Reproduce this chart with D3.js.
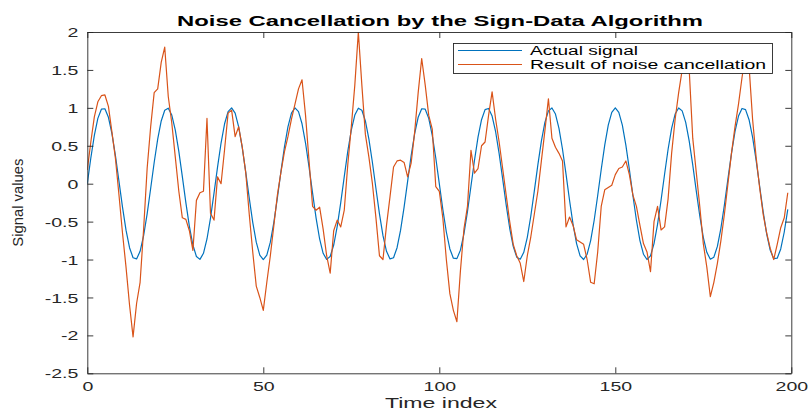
<!DOCTYPE html>
<html><head><meta charset="utf-8">
<script src="https://cdn.jsdelivr.net/npm/d3@7"></script>
<style>body{margin:0;background:#fff}svg{display:block}</style>
</head><body>
<svg id="c" width="808" height="412"></svg>
<script>
const titleText = "Noise Cancellation by the Sign-Data Algorithm";
const xLabel = "Time index";
const yLabel = "Signal values";
const seriesNames = ["Actual signal", "Result of noise cancellation"];
const xTicks = [0, 50, 100, 150, 200];
const yTicks = [-2.5, -2, -1.5, -1, -0.5, 0, 0.5, 1, 1.5, 2];
const yTickLabels = ["-2.5", "-2", "-1.5", "-1", "-0.5", "0", "0.5", "1", "1.5", "2"];

const actualSignal = [
 0, 0.339, 0.637, 0.861, 0.982, 0.988, 0.876, 0.661, 0.368, 0.031,
 -0.309, -0.613, -0.844, -0.976, -0.992, -0.891, -0.685, -0.397, -0.063, 0.279,
 0.588, 0.827, 0.969, 0.996, 0.905, 0.707, 0.426, 0.094, -0.249, -0.562,
 -0.809, -0.960, -0.998, -0.918, -0.729, -0.454, -0.125, 0.218, 0.536, 0.790,
 0.951, 1.000, 0.930, 0.750, 0.482, 0.156, -0.187, -0.509, -0.771, -0.941,
 -1.000, -0.941, -0.771, -0.509, -0.187, 0.156, 0.482, 0.750, 0.930, 1.000,
 0.951, 0.790, 0.536, 0.218, -0.125, -0.454, -0.729, -0.918, -0.998, -0.960,
 -0.809, -0.562, -0.249, 0.094, 0.426, 0.707, 0.905, 0.996, 0.969, 0.827,
 0.588, 0.279, -0.063, -0.397, -0.685, -0.891, -0.992, -0.976, -0.844, -0.613,
 -0.309, 0.031, 0.368, 0.661, 0.876, 0.988, 0.982, 0.861, 0.637, 0.339,
 0, -0.339, -0.637, -0.861, -0.982, -0.988, -0.876, -0.661, -0.368, -0.031,
 0.309, 0.613, 0.844, 0.976, 0.992, 0.891, 0.685, 0.397, 0.063, -0.279,
 -0.588, -0.827, -0.969, -0.996, -0.905, -0.707, -0.426, -0.094, 0.249, 0.562,
 0.809, 0.960, 0.998, 0.918, 0.729, 0.454, 0.125, -0.218, -0.536, -0.790,
 -0.951, -1.000, -0.930, -0.750, -0.482, -0.156, 0.187, 0.509, 0.771, 0.941,
 1.000, 0.941, 0.771, 0.509, 0.187, -0.156, -0.482, -0.750, -0.930, -1.000,
 -0.951, -0.790, -0.536, -0.218, 0.125, 0.454, 0.729, 0.918, 0.998, 0.960,
 0.809, 0.562, 0.249, -0.094, -0.426, -0.707, -0.905, -0.996, -0.969, -0.827,
 -0.588, -0.279, 0.063, 0.397, 0.685, 0.891, 0.992, 0.976, 0.844, 0.613,
 0.309, -0.031, -0.368, -0.661, -0.876, -0.988, -0.982, -0.861, -0.637, -0.339
];

const noiseCancelled = [
 0.18, 0.55, 0.88, 1.08, 1.16, 1.17, 1.02, 0.68, 0.33, -0.15,
 -0.65, -1.1, -1.6, -2.02, -1.58, -1.3, -0.6, 0.2, 0.75, 1.2,
 1.25, 1.6, 1.8, 1.15, 0.8, 0.35, -0.1, -0.45, -0.47, -0.62,
 -0.88, -0.22, -0.12, -0.1, 0.86, -0.39, -0.48, 0.09, 0.0, 0.45,
 0.93, 0.97, 0.62, 0.75, 0.49, 0.15, -0.4, -0.9, -1.35, -1.5,
 -1.67, -1.3, -0.95, -0.55, -0.15, 0.15, 0.42, 0.62, 0.85, 1.05,
 1.25, 1.37, 0.9, 0.3, -0.3, -0.35, -0.31, -0.6, -0.95, -1.18,
 -0.62, -0.48, -0.57, -0.35, 0.25, 0.75, 1.3, 2.0, 1.3, 0.65,
 0.35, 0.0, -0.45, -0.95, -1.0, -0.55, -0.17, 0.22, 0.3, 0.31,
 0.28, 0.09, 0.27, 0.68, 1.2, 1.65, 1.3, 0.9, 0.72, -0.04,
 -0.1, -0.45, -1.0, -1.45, -1.67, -1.82, -1.15, -0.6, -0.3, 0.44,
 0.14, 0.2, 0.5, 0.55, 0.9, 1.21, 0.85, 0.55, 0.2, -0.15,
 -0.5, -0.8, -0.95, -1.05, -1.29, -0.95, -0.7, -0.4, -0.1, 0.3,
 0.7, 1.12, 0.6, 0.48, 0.4, 0.3, -0.57, -0.44, -0.55, -0.74,
 -0.77, -0.8, -1.0, -1.3, -1.32, -0.9, -0.3, -0.08, -0.05, -0.02,
 0.12, 0.2, 0.22, 0.3, 0.12, -0.15, -0.3, -0.55, -0.79, -0.9,
 -1.16, -0.5, -0.3, -0.61, -0.57, -0.2, 0.4, 0.85, 1.2, 1.5,
 1.75, 1.5, 0.6, 0.15, -0.3, -0.79, -1.1, -1.49, -1.3, -1.05,
 -0.75, -0.4, 0.0, 0.4, 0.75, 1.05, 1.4, 1.7, 1.55, 0.85,
 0.35, -0.05, -0.4, -0.65, -0.85, -1.0, -0.8, -0.58, -0.45, -0.12
];

const colors = ["#0072BD", "#D95319"];
const axisColor = "#262626";
const hStretch = 1.55;

const svg = d3.select("#c");
svg.append("rect").attr("width", 808).attr("height", 412).attr("fill", "#fff");

const L = 87.3, R = 791.3, T = 32, B = 373.3;
const x = d3.scaleLinear().domain([0, 200]).range([L, R]);
const y = d3.scaleLinear().domain([-2.5, 2]).range([B, T]);

function stretch(sel, k) {
  sel.each(function () {
    const w = this.getComputedTextLength();
    d3.select(this).attr("textLength", w * k).attr("lengthAdjust", "spacingAndGlyphs");
  });
}
function styleAxis(g) {
  g.selectAll("path.domain").attr("stroke", axisColor).attr("stroke-width", 0.9);
  g.selectAll(".tick line").attr("stroke", axisColor).attr("stroke-width", 0.9);
  g.selectAll(".tick text").attr("fill", axisColor)
    .style("font-family", "'Liberation Sans', Arial, sans-serif").style("font-size", "12.6px");
}

svg.append("rect").attr("x", L).attr("y", T).attr("width", R - L).attr("height", B - T).attr("fill", "#fff");

svg.append("clipPath").attr("id", "clip").append("rect")
  .attr("x", L).attr("y", T).attr("width", R - L).attr("height", B - T);

const lineGen = d3.line().x((d, i) => x(i)).y(d => y(d));
const plot = svg.append("g").attr("clip-path", "url(#clip)");
[actualSignal, noiseCancelled].forEach((s, k) => {
  plot.append("path").datum(s).attr("d", lineGen).attr("fill", "none")
    .attr("stroke", colors[k]).attr("stroke-width", 1.2).attr("stroke-linejoin", "round");
});

const gx = svg.append("g").attr("transform", `translate(0,${B})`)
  .call(d3.axisBottom(x).tickValues(xTicks).tickFormat(d3.format("d")).tickSizeInner(-6).tickSizeOuter(0).tickPadding(8.5));
styleAxis(gx);
const gy = svg.append("g").attr("transform", `translate(${L},0)`)
  .call(d3.axisLeft(y).tickValues(yTicks).tickFormat((d, i) => yTickLabels[i]).tickSizeInner(-6).tickSizeOuter(0).tickPadding(9));
styleAxis(gy);
gy.selectAll(".tick text").attr("dy", "0.36em");
const gt = svg.append("g").attr("transform", `translate(0,${T})`)
  .call(d3.axisTop(x).tickValues(xTicks).tickFormat("").tickSizeInner(-6).tickSizeOuter(0));
styleAxis(gt);
const gr = svg.append("g").attr("transform", `translate(${R},0)`)
  .call(d3.axisRight(y).tickValues(yTicks).tickFormat("").tickSizeInner(-6).tickSizeOuter(0));
styleAxis(gr);
stretch(gx.selectAll(".tick text"), hStretch);
stretch(gy.selectAll(".tick text"), hStretch);

svg.append("text").attr("x", 440).attr("y", 26).attr("text-anchor", "middle")
  .style("font-family", "'Liberation Sans', Arial, sans-serif").style("font-size", "15.5px")
  .style("font-weight", "bold").attr("fill", "#000").text(titleText)
  .attr("textLength", 526).attr("lengthAdjust", "spacingAndGlyphs");

svg.append("text").attr("x", 441).attr("y", 408).attr("text-anchor", "middle")
  .style("font-family", "'Liberation Sans', Arial, sans-serif").style("font-size", "15px")
  .attr("fill", axisColor).text(xLabel)
  .attr("textLength", 112).attr("lengthAdjust", "spacingAndGlyphs");

svg.append("text").attr("transform", `translate(23,${(T + B) / 2}) rotate(-90)`)
  .attr("text-anchor", "middle")
  .style("font-family", "'Liberation Sans', Arial, sans-serif").style("font-size", "14.8px")
  .attr("fill", axisColor).text(yLabel);

const lg = svg.append("g");
lg.append("rect").attr("x", 453.5).attr("y", 43.5).attr("width", 319).attr("height", 30)
  .attr("fill", "#fff").attr("stroke", axisColor).attr("stroke-width", 0.9);
const legendLen = [108, 236];
seriesNames.forEach((name, k) => {
  const ly = 50.5 + k * 14;
  lg.append("line").attr("x1", 458).attr("x2", 522).attr("y1", ly).attr("y2", ly)
    .attr("stroke", colors[k]).attr("stroke-width", 1.2);
  lg.append("text").attr("x", 530).attr("y", ly + 4.5)
    .style("font-family", "'Liberation Sans', Arial, sans-serif").style("font-size", "12.3px")
    .attr("fill", "#000").text(name)
    .attr("textLength", legendLen[k]).attr("lengthAdjust", "spacingAndGlyphs");
});
</script>
</body></html>
